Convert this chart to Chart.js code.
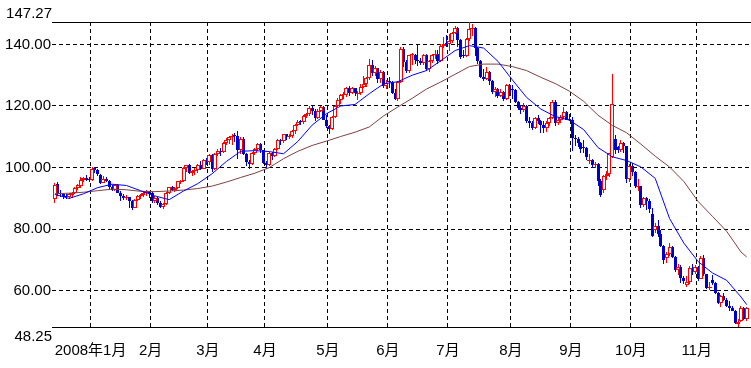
<!DOCTYPE html>
<html><head><meta charset="utf-8">
<script src="https://cdn.jsdelivr.net/npm/chart.js@4.4.1/dist/chart.umd.min.js"></script>
<style>html,body{margin:0;padding:0;background:#fff}#wrap{width:751px;height:368px;position:relative}</style>
</head><body><div id="wrap"><canvas id="c"></canvas></div>
<script>
// ---- categories (trading days) ----
const monthKeys = ['2007-12','2008-01','2008-02','2008-03','2008-04','2008-05','2008-06','2008-07','2008-08','2008-09','2008-10','2008-11'];
const monthLabels = ['', '2008年1月','2月','3月','4月','5月','6月','7月','8月','9月','10月','11月'];
const monthDays = [
  [12,13,14,17,18,19,20,21,24,26,27,28,31],
  [2,3,4,7,8,9,10,11,14,15,16,17,18,22,23,24,25,28,29,30,31],
  [1,4,5,6,7,8,11,12,13,14,15,19,20,21,22,25,26,27,28,29],
  [3,4,5,6,7,10,11,12,13,14,17,18,19,20,24,25,26,27,28,31],
  [1,2,3,4,7,8,9,10,11,14,15,16,17,18,21,22,23,24,25,28,29,30],
  [1,2,5,6,7,8,9,12,13,14,15,16,19,20,21,22,23,27,28,29,30],
  [2,3,4,5,6,9,10,11,12,13,16,17,18,19,20,23,24,25,26,27,30],
  [1,2,3,7,8,9,10,11,14,15,16,17,18,21,22,23,24,25,28,29,30,31],
  [1,4,5,6,7,8,11,12,13,14,15,18,19,20,21,22,25,26,27,28,29],
  [2,3,4,5,8,9,10,11,12,15,16,17,18,19,22,23,24,25,26,29,30],
  [1,2,3,6,7,8,9,10,13,14,15,16,17,20,21,22,23,24,27,28,29,30,31],
  [3,4,5,6,7,10,11,12,13,14,17,18,19,20,21,24,25,26]
];

// ---- OHLC series ----
const opens = [
  89.9,94.6,91.9,91.5,90.9,90.3,91.0,91.8,93.3,93.9,96.0,96.7,96.4,
  96.0,99.8,99.2,97.6,95.1,96.4,95.7,93.7,92.7,94.3,91.9,90.8,90.1,90.4,89.2,87.0,89.4,90.7,91.0,91.6,92.3,
  91.8,89.0,90.0,88.4,87.1,88.1,91.8,93.6,92.8,93.3,95.4,95.6,100.0,100.7,98.2,98.8,99.2,100.9,99.6,102.6,
  101.8,104.0,99.5,104.5,105.5,105.2,107.9,108.8,109.9,110.3,110.2,105.7,109.4,104.5,101.8,101.2,104.9,105.9,107.6,105.6,
  101.6,101.0,104.8,103.9,106.2,109.1,108.5,110.9,110.0,110.1,111.8,113.8,115.1,114.9,116.7,117.5,119.4,118.3,116.1,118.5,119.8,115.6,
  113.5,112.5,116.3,120.0,121.8,123.5,123.7,126.0,124.2,125.8,124.0,124.1,126.3,127.1,129.1,133.2,130.8,132.2,128.9,131.0,126.6,
  128.2,127.8,124.3,122.3,127.8,138.5,134.4,131.3,136.4,136.7,134.9,134.6,134.0,136.7,131.9,134.6,136.7,137.0,134.6,139.6,140.2,
  140.0,141.0,143.6,145.3,141.4,136.3,136.1,141.7,145.1,145.2,138.7,134.6,129.3,128.9,131.0,128.0,124.4,125.5,123.3,124.7,122.2,126.8,
  125.6,125.1,121.4,119.2,118.6,120.0,115.2,114.5,113.0,116.0,115.0,113.8,112.9,114.5,116.2,121.2,114.6,115.5,116.3,118.2,115.6,
  115.5,109.7,109.4,107.9,106.5,106.3,102.2,102.6,100.7,101.2,95.7,92.6,97.2,97.9,103.5,109.3,106.6,105.7,108.0,106.9,96.4,
  100.6,98.5,93.6,93.9,87.8,90.1,89.0,85.0,79.7,81.2,78.6,74.5,70.5,71.9,74.3,70.9,66.8,67.8,64.2,62.0,62.7,67.5,66.0,
  67.8,63.9,70.5,65.3,60.8,63.6,62.4,59.3,56.2,58.2,57.0,55.0,54.4,53.6,49.2,50.2,54.5,50.8
];
const highs = [
  94.9,95.3,92.6,91.8,91.4,91.6,92.0,93.8,94.8,96.9,97.1,97.6,96.8,
  100.1,100.1,99.6,97.9,97.3,97.0,96.0,94.4,94.6,94.6,92.4,91.5,91.2,90.6,89.4,89.8,91.2,91.3,92.1,92.6,92.5,
  92.0,90.7,90.5,89.0,88.6,92.0,93.8,94.0,93.7,95.8,96.1,100.1,100.9,101.3,99.3,99.9,101.3,102.1,102.9,103.1,
  104.3,104.4,104.6,105.9,106.5,108.2,109.7,110.2,111.0,111.3,111.8,109.9,109.8,104.9,102.4,105.0,106.5,108.0,108.1,105.8,
  102.0,105.2,105.1,106.4,109.2,109.4,111.0,111.0,110.9,112.2,114.0,115.5,115.5,117.0,117.8,119.9,119.9,119.0,119.0,120.0,120.0,117.0,
  113.7,116.8,120.4,122.7,123.8,124.6,126.2,126.4,126.2,126.0,124.8,127.0,129.6,129.4,135.1,135.0,133.1,132.4,131.8,131.4,128.5,
  129.5,128.0,125.6,128.0,139.1,139.0,135.0,136.7,137.2,137.0,139.9,135.5,137.0,136.9,135.0,137.0,138.3,138.2,140.0,142.3,143.0,
  143.3,144.0,145.9,145.6,141.6,138.2,142.0,147.27,146.7,145.6,139.3,135.0,131.9,132.5,131.2,128.5,126.1,125.8,125.4,124.9,127.2,127.1,
  126.8,125.5,121.6,120.3,121.0,120.2,116.5,115.0,116.3,117.0,115.4,115.0,115.2,116.4,121.8,122.0,116.1,117.2,119.8,118.5,117.4,
  116.4,110.6,110.0,108.3,109.0,106.8,104.4,102.9,101.8,101.4,96.3,97.6,98.8,104.7,130.5,110.7,107.0,109.0,108.3,107.0,101.2,
  101.4,99.0,96.4,94.0,90.6,90.3,89.7,86.8,81.9,83.0,79.8,74.8,72.5,75.5,74.6,71.3,68.6,68.4,64.9,64.7,67.9,68.7,68.5,
  68.0,71.2,71.6,65.5,62.9,65.0,62.8,59.7,58.6,59.4,57.6,56.8,55.1,53.8,50.8,55.1,54.8,54.7
];
const lows = [
  88.5,90.9,90.3,89.8,89.7,89.9,90.0,91.4,92.8,93.4,95.3,95.8,95.3,
  95.8,98.4,97.2,94.6,94.9,95.4,92.8,92.3,92.4,91.6,89.3,89.6,89.5,86.9,86.1,86.8,89.2,89.8,90.6,90.9,90.2,
  88.6,88.4,87.9,86.8,86.6,87.9,91.3,92.3,92.1,93.0,94.6,95.4,98.6,97.8,97.4,97.6,98.4,99.1,99.5,101.0,
  101.0,98.6,99.2,103.9,103.8,104.8,107.2,107.8,107.2,108.3,102.9,104.5,104.0,100.6,99.7,100.8,104.2,105.3,104.8,101.1,
  99.6,100.6,102.6,103.3,105.8,107.4,108.0,108.8,109.2,109.6,110.8,113.5,113.8,114.3,116.1,116.9,117.1,115.1,115.7,117.9,115.3,112.8,
  111.0,112.1,116.0,119.6,120.8,122.3,122.9,123.3,123.9,123.1,121.9,123.7,125.9,126.1,128.5,129.9,129.9,127.4,127.5,125.8,125.5,
  125.8,123.8,122.0,121.6,127.6,132.6,130.6,130.6,133.2,133.6,133.0,133.2,133.4,131.2,131.1,133.9,135.4,133.7,134.3,138.8,139.3,
  137.7,140.4,143.3,139.0,135.4,135.6,135.9,141.2,142.6,136.2,133.5,129.1,128.2,128.3,126.8,123.8,123.0,122.7,122.9,121.6,121.8,123.2,
  122.4,120.9,118.6,117.3,118.2,114.6,113.0,112.2,112.6,114.0,111.3,111.3,111.6,113.6,115.9,113.6,113.8,114.5,115.8,115.3,115.0,
  105.5,106.9,106.7,104.7,104.9,102.5,101.3,99.9,99.9,93.9,90.5,91.9,95.9,97.1,103.2,104.5,104.9,105.0,104.8,94.9,95.4,
  97.3,93.3,92.3,87.0,87.2,86.3,85.3,77.6,78.9,77.6,74.2,68.6,69.1,71.4,70.5,66.1,65.0,62.5,62.3,61.3,62.3,65.1,65.4,
  63.3,63.7,64.8,60.5,60.3,62.0,58.9,55.8,54.7,56.8,54.6,53.3,53.4,49.1,48.25,50.0,50.4,50.2
];
const closes = [
  94.4,91.3,91.3,90.6,90.5,91.4,91.7,93.3,94.2,96.0,96.6,96.0,96.0,
  99.6,99.2,97.9,95.1,96.3,95.7,93.7,92.7,94.2,91.9,90.8,90.1,90.6,89.2,87.0,89.4,90.7,91.0,91.6,92.3,91.8,
  89.0,90.0,88.4,87.1,88.1,91.8,93.6,92.8,93.3,95.5,95.5,100.0,100.7,98.2,98.8,99.2,100.9,99.6,102.6,101.8,
  104.0,99.5,104.5,105.5,105.2,107.9,108.8,109.9,110.3,110.2,105.7,109.4,104.5,101.8,101.2,104.9,105.9,107.6,105.6,101.6,
  101.0,104.8,103.9,106.2,109.1,108.5,110.9,110.1,110.1,111.8,113.8,114.9,114.9,116.7,117.5,119.4,118.3,116.1,118.5,119.8,115.6,113.5,
  112.5,116.3,120.0,121.8,123.5,123.7,126.0,124.2,125.8,124.1,124.1,126.3,127.1,129.1,133.2,130.8,132.2,128.9,131.0,126.6,127.4,
  127.8,124.3,122.3,127.8,138.5,134.4,131.3,136.4,136.7,134.9,134.6,134.0,136.7,131.9,134.6,136.7,137.0,134.6,139.6,140.2,140.0,
  141.0,143.6,145.3,141.4,136.0,136.1,141.7,145.1,145.2,138.7,134.6,129.3,128.9,131.0,128.0,124.4,125.5,123.3,124.7,122.2,126.8,124.1,
  125.1,121.4,119.2,118.6,120.0,115.2,114.5,113.0,116.0,115.0,113.8,112.9,114.5,116.2,121.2,114.6,115.5,116.3,118.2,115.6,115.5,
  109.7,109.4,107.9,106.2,106.3,103.3,102.6,100.9,101.2,95.7,91.2,97.2,97.9,104.6,120.5,105.7,105.7,108.0,106.9,96.4,100.6,
  98.5,94.0,93.9,87.8,90.1,89.0,86.6,77.7,81.2,78.6,74.5,69.9,71.9,74.3,70.9,66.8,67.8,64.2,63.2,62.7,67.5,66.0,67.8,
  63.9,70.5,65.3,60.8,61.0,62.4,59.3,56.2,58.2,57.0,55.0,54.4,53.6,49.6,49.9,54.5,50.8,54.4
];

// ---- moving average lines (at these day indices) ----
const maIdx = [0,5,10,15,20,25,30,35,40,45,50,55,60,65,70,75,80,85,90,95,100,105,110,115,120,125,130,135,140,145,150,155,160,165,170,175,180,185,190,195,200,205,210,215,220,225,230,235,240,242];
const maShort = [91.3,90.0,91.5,93.5,94.6,94.2,92.5,90.8,89.6,92.4,94.8,98.0,102.0,105.3,105.5,105.2,104.5,108.5,113.8,117.5,120.0,120.5,124.0,127.2,127.9,130.0,131.5,134.7,138.0,139.6,138.8,134.5,128.5,122.8,119.0,116.6,115.4,112.3,106.5,103.5,102.3,100.2,96.5,83.5,75.5,69.5,65.8,63.4,58.0,55.5];
const maLong = [91.5,91.7,92.0,92.5,93.0,92.8,92.3,92.2,92.4,92.7,93.2,94.0,95.3,96.8,98.2,100.0,102.9,105.3,107.2,108.6,110.1,111.5,113.2,116.8,119.7,122.5,125.5,127.8,130.3,132.8,133.6,133.6,132.8,131.5,129.3,127.3,124.8,121.5,117.0,113.7,111.3,107.6,103.7,100.2,95.5,89.0,84.2,79.3,72.6,71.0];

// ---- axis values ----
const yMin = 48.25, yMax = 147.27;
const yTicks = [60, 80, 100, 120, 140];

// ---- build ----
const dates = [];
const monthStart = [];
monthKeys.forEach((k, m) => {
  monthStart.push(dates.length);
  monthDays[m].forEach(d => dates.push(k + '-' + String(d).padStart(2, '0')));
});
const upBody = [], downBody = [], upWick = [], downWick = [];
dates.forEach((d, i) => {
  const up = closes[i] >= opens[i];
  (up ? upBody : downBody).push({x: i, y: [opens[i], closes[i]]});
  (up ? upWick : downWick).push({x: i, y: [lows[i], highs[i]]});
});
const xMin = -1, xMax = dates.length + 0.5;
const FONT = {family: '"Liberation Sans", "Noto Sans CJK JP", sans-serif', size: 15};
const RED = '#ff0000', BLUE = '#0000cc';
const DASH = [4, 3];

const endLabels = {
  id: 'endLabels',
  afterDraw(chart) {
    const {ctx} = chart; const y = chart.scales.y;
    ctx.save();
    ctx.font = FONT.size + 'px ' + FONT.family;
    ctx.fillStyle = '#000';
    ctx.textAlign = 'right';
    ctx.textBaseline = 'bottom';
    ctx.fillText(yMax.toFixed(2), y.right, y.getPixelForValue(yMax) - 1);
    ctx.textBaseline = 'top';
    ctx.fillText(yMin.toFixed(2), y.right, y.getPixelForValue(yMin) + 2);
    ctx.restore();
  }
};

// snap bar elements to whole pixels so candles stay crisp
const pixelSnap = {
  id: 'pixelSnap',
  afterDatasetsUpdate(chart) {
    chart.data.datasets.forEach((ds, di) => {
      const meta = chart.getDatasetMeta(di);
      if (meta.type !== 'bar') return;
      meta.data.forEach(el => {
        const w = Math.round(el.width);
        const left = Math.round(el.x - w / 2);
        el.x = left + w / 2;
        el.width = w;
        el.y = Math.round(el.y);
        el.base = Math.round(el.base);
        if (el.y === el.base) el.base = el.y + 1;
        el.height = el.base - el.y;
      });
    });
  }
};

const barCommon = {grouped: false, categoryPercentage: 1, barPercentage: 2, inflateAmount: 0};

new Chart(document.getElementById('c'), {
  type: 'bar',
  data: {datasets: [
    {type: 'line', data: maIdx.map((x, k) => ({x, y: maShort[k]})), borderColor: '#0000ff', borderWidth: 1, pointRadius: 0, tension: 0, order: 0},
    {type: 'line', data: maIdx.map((x, k) => ({x, y: maLong[k]})), borderColor: '#804040', borderWidth: 1, pointRadius: 0, tension: 0, order: 0},
    Object.assign({data: upBody, backgroundColor: '#ffffff', borderColor: RED, borderWidth: 1, borderSkipped: false, maxBarThickness: 4, minBarLength: 1, order: 1}, barCommon),
    Object.assign({data: downBody, backgroundColor: BLUE, borderWidth: 0, maxBarThickness: 3, minBarLength: 1, order: 1}, barCommon),
    Object.assign({data: upWick, backgroundColor: RED, borderWidth: 0, maxBarThickness: 1, order: 2}, barCommon),
    Object.assign({data: downWick, backgroundColor: BLUE, borderWidth: 0, maxBarThickness: 1, order: 2}, barCommon)
  ]},
  options: {
    responsive: true, maintainAspectRatio: false, animation: false, devicePixelRatio: 1,
    layout: {padding: {top: 22, right: 0, left: 0, bottom: 0}},
    plugins: {legend: {display: false}, tooltip: {enabled: false}},
    scales: {
      x: {
        type: 'linear', position: 'bottom', min: xMin, max: xMax, offset: false,
        grid: {color: '#000', lineWidth: 1, drawTicks: false, offset: false},
        border: {display: true, color: '#000', width: 1, dash: DASH},
        afterBuildTicks: s => { s.ticks = monthStart.slice(1).map(i => ({value: i - 0.5})); },
        ticks: {autoSkip: false, maxRotation: 0, padding: 15, color: '#000', font: FONT,
                callback: (v, k) => monthLabels[k + 1]},
        afterFit: s => { s.height = 41; }
      },
      xTop: {
        type: 'linear', position: 'top', min: xMin, max: xMax, offset: false,
        grid: {display: false, drawTicks: false, offset: false},
        border: {display: true, color: '#000', width: 1},
        ticks: {display: false},
        afterFit: s => { s.height = 0; }
      },
      y: {
        type: 'linear', min: yMin, max: yMax,
        grid: {color: '#000', lineWidth: 1, drawTicks: false},
        border: {display: false, dash: DASH},
        afterBuildTicks: s => { s.ticks = yTicks.map(v => ({value: v})); },
        ticks: {padding: 1, color: '#000', font: FONT, callback: v => Number(v).toFixed(2)},
        afterFit: s => { s.width = 52; }
      }
    }
  },
  plugins: [pixelSnap, endLabels]
});
</script>
</body></html>
